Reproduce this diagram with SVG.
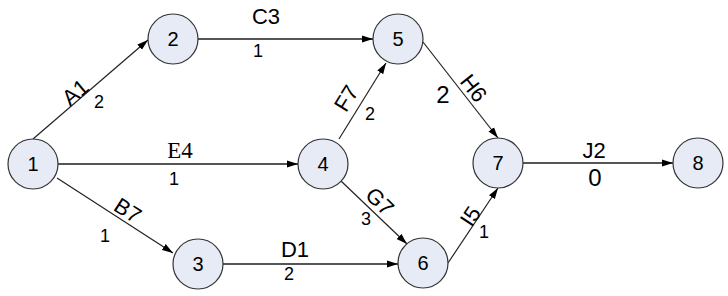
<svg xmlns="http://www.w3.org/2000/svg" width="728" height="296" viewBox="0 0 728 296">
<style>
.node circle{fill:#e6ebf5;stroke:#333;stroke-width:1.2}
.node text{font-family:"Liberation Sans",Arial,sans-serif;font-size:20px;text-anchor:middle;fill:#000}
.edge{stroke:#222;stroke-width:1.2;fill:none;marker-end:url(#arr)}
.edge.h{stroke:#555;stroke-width:1.8}
.lbl{font-family:"Liberation Sans",Arial,sans-serif;font-size:22px;text-anchor:middle;fill:#000}
.w{font-family:"Liberation Sans",Arial,sans-serif;font-size:18px;text-anchor:middle;fill:#000}
.wb{font-family:"Liberation Sans",Arial,sans-serif;font-size:24px;text-anchor:middle;fill:#000}
.serif{font-family:"Liberation Serif","Times New Roman",serif;font-size:23px;text-anchor:middle;fill:#000}
</style>
<defs>
<marker id="arr" markerUnits="userSpaceOnUse" markerWidth="12" markerHeight="8" refX="11" refY="4" orient="auto">
<path d="M0,0.5 L11,4 L0,7.5 z" fill="#000"/>
</marker>
</defs>
<rect width="728" height="296" fill="#fff"/>
<g id="connectors">
<line class="edge" x1="33" y1="139" x2="148" y2="40"/>
<line class="edge" x1="57" y1="178" x2="173" y2="253"/>
<line class="edge h" x1="58" y1="164" x2="298" y2="164"/>
<line class="edge h" x1="198" y1="39" x2="373" y2="39"/>
<line class="edge h" x1="223" y1="264" x2="398" y2="264"/>
<line class="edge" x1="339" y1="139" x2="386" y2="63"/>
<line class="edge" x1="341" y1="181" x2="407" y2="244"/>
<line class="edge" x1="423" y1="42" x2="498" y2="138"/>
<line class="edge" x1="448" y1="263" x2="498" y2="188"/>
<line class="edge h" x1="523" y1="163" x2="673" y2="163"/>
<text class="lbl" transform="translate(75,92) rotate(-40.4)" y="8">A1</text>
<text class="w" x="99" y="108">2</text>
<text class="lbl" transform="translate(128,210) rotate(32.9)" y="8">B7</text>
<text class="w" x="105" y="242">1</text>
<text class="serif" x="180" y="158">E4</text>
<text class="w" x="174" y="185">1</text>
<text class="lbl" x="266" y="24">C3</text>
<text class="w" x="258" y="57">1</text>
<text class="lbl" x="295" y="257">D1</text>
<text class="w" x="289" y="280">2</text>
<text class="lbl" transform="translate(346,98) rotate(-58.3)" y="8">F7</text>
<text class="w" x="370" y="120">2</text>
<text class="lbl" transform="translate(474,88) rotate(52)" y="8">H6</text>
<text class="wb" x="443" y="103">2</text>
<text class="lbl" transform="translate(380,201) rotate(44.5)" y="8">G7</text>
<text class="w" x="366" y="225">3</text>
<text class="lbl" transform="translate(470,216) rotate(-56.3)" y="8">I5</text>
<text class="w" x="484" y="238">1</text>
<text class="lbl" x="594" y="158">J2</text>
<text class="wb" x="595" y="186">0</text>
</g>
<g id="n1" class="node"><circle cx="33" cy="164" r="25"/><text x="33" y="171">1</text></g>
<g id="n2" class="node"><circle cx="173" cy="39" r="25"/><text x="173" y="46">2</text></g>
<g id="n3" class="node"><circle cx="198" cy="264" r="25"/><text x="198" y="271">3</text></g>
<g id="n4" class="node"><circle cx="323" cy="164" r="25"/><text x="323" y="171">4</text></g>
<g id="n5" class="node"><circle cx="398" cy="39" r="25"/><text x="398" y="46">5</text></g>
<g id="n6" class="node"><circle cx="423" cy="263" r="25"/><text x="423" y="270">6</text></g>
<g id="n7" class="node"><circle cx="498" cy="163" r="25"/><text x="498" y="170">7</text></g>
<g id="n8" class="node"><circle cx="698" cy="163" r="25"/><text x="698" y="170">8</text></g>
</svg>
